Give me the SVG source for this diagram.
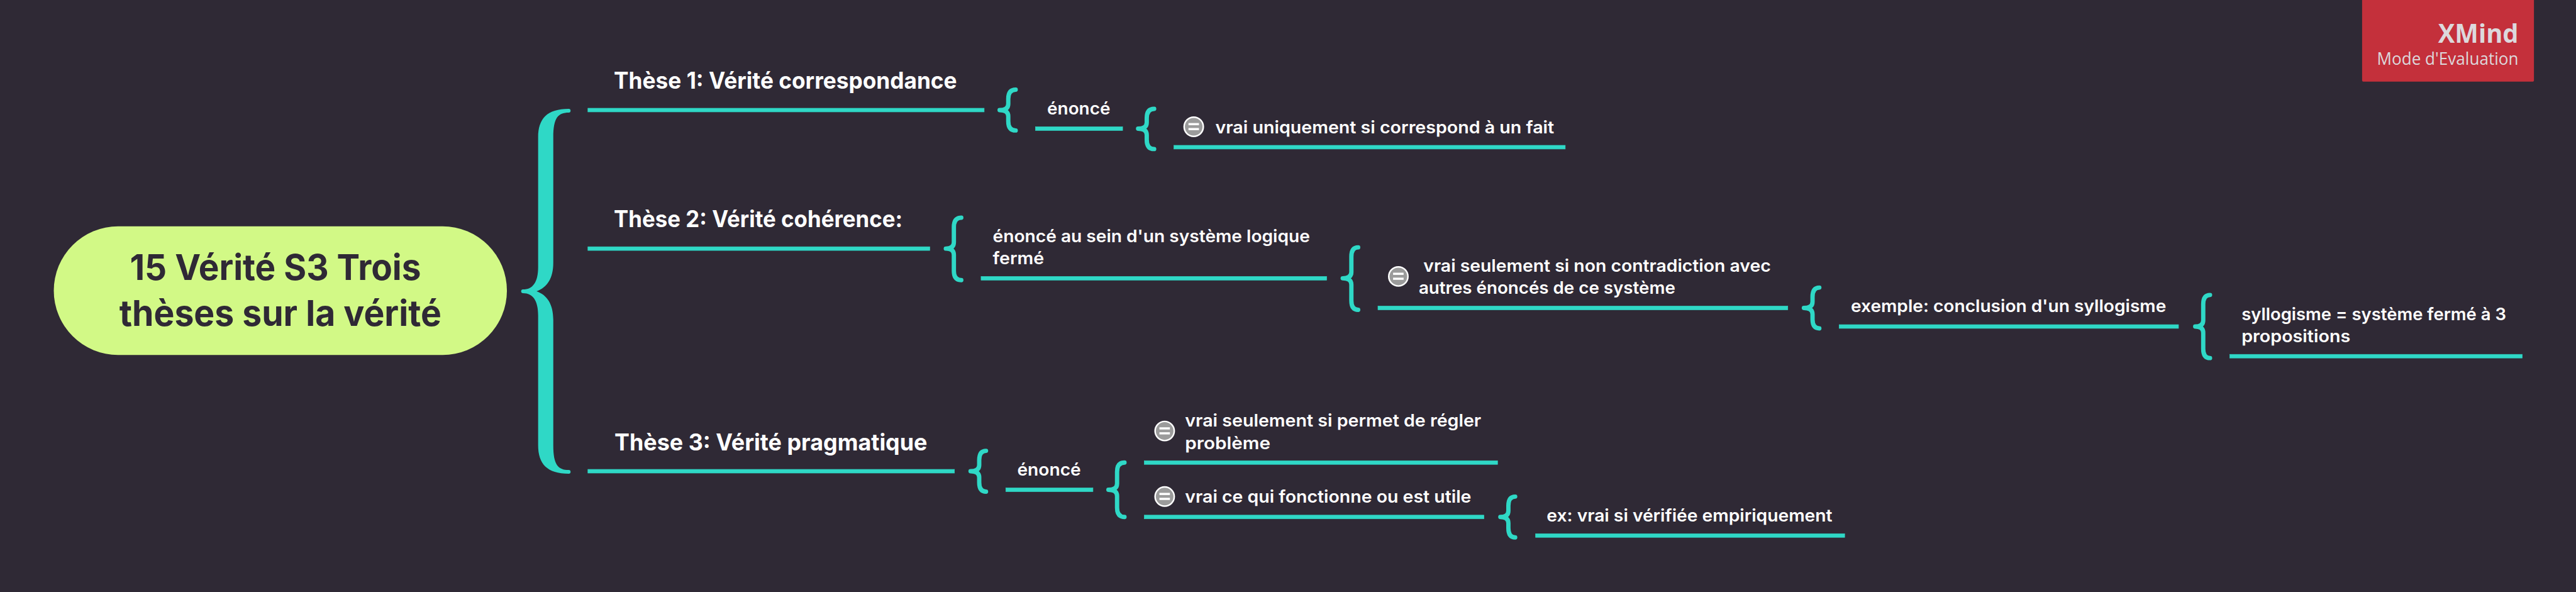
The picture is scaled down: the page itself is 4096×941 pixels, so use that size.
<svg xmlns="http://www.w3.org/2000/svg" xmlns:xlink="http://www.w3.org/1999/xlink" width="4096" height="941" viewBox="0 0 4096 941">
<style>
text{font-family:Inter,"Noto Sans","Liberation Sans",sans-serif;fill:#fff}
.root{font-size:58px;font-weight:700;fill:#2f2935}
.t1{font-size:37px;font-weight:700}
.t2{font-size:28px;font-weight:600}
.ul{fill:#2fd8c6;stroke:#2fd8c6;stroke-width:.7}
.br{fill:none;stroke:#2fd8c6;stroke-width:7;stroke-linecap:round;stroke-linejoin:round}
.wm1{font-family:"Open Sans","Liberation Sans",sans-serif;font-size:41px;font-weight:700;fill:#dcd9dc}
.wm2{font-family:"Open Sans","Liberation Sans",sans-serif;font-size:27px;fill:#dcd9dc}
</style>
<defs>
<g id="ico"><circle r="15.5" fill="#9b9b9b" stroke="#fff" stroke-width="2.5"/><rect x="-8.5" y="-6" width="17" height="3.5" fill="#fff"/><rect x="-8.5" y="2" width="17" height="3.5" fill="#fff"/></g>
</defs>
<rect width="4096" height="941" fill="#2f2935"/>
<g transform="scale(0.98296)">
<g id="connectors">
<path fill="#2fd8c6" d="M920 176Q923 176 923 179Q923 182 920 182C903 182 895 190 895 222L895 425C895 450 885 465 868 471C885 477 895 492 895 517L895 720C895 752 903 760 920 760Q923 760 923 763Q923 766 920 766C885 766 870.5 750 870.5 720L870.5 510C870.5 486 862 474 846 474Q843 474 843 471Q843 468 846 468C862 468 870.5 456 870.5 432L870.5 222C870.5 192 885 176 920 176Z"/>
<path class="br" d="M1643 145Q1631 145 1631 160L1631 168Q1631 178 1617 178Q1631 178 1631 188L1631 196Q1631 211 1643 211"/>
<path class="br" d="M1867 176Q1855 176 1855 191L1855 198Q1855 208 1841 208Q1855 208 1855 218L1855 226Q1855 241 1867 241"/>
<path class="br" d="M1555 352Q1543 352 1543 367L1543 392Q1543 402 1530 402Q1543 402 1543 412L1543 438Q1543 453 1555 453"/>
<path class="br" d="M2197 400Q2186 400 2186 415L2186 440Q2186 450 2172 450Q2186 450 2186 460L2186 486Q2186 501 2197 501"/>
<path class="br" d="M2943 465Q2932 465 2932 480L2932 488Q2932 498 2918 498Q2932 498 2932 508L2932 516Q2932 531 2943 531"/>
<path class="br" d="M3575 477Q3564 477 3564 492L3564 518Q3564 528 3551 528Q3564 528 3564 538L3564 564Q3564 579 3575 579"/>
<path class="br" d="M1595 729Q1584 729 1584 744L1584 752Q1584 762 1570 762Q1584 762 1584 772L1584 780Q1584 795 1595 795"/>
<path class="br" d="M1819 748Q1807 748 1807 763L1807 782Q1807 792 1793 792Q1807 792 1807 802L1807 821Q1807 836 1819 836"/>
<path class="br" d="M2451 803Q2440 803 2440 818L2440 826Q2440 836 2427 836Q2440 836 2440 846L2440 854Q2440 869 2451 869"/>
</g>
<g id="root"><rect x="87" y="366" width="733" height="208" rx="104" fill="#d2f986"/>
<text class="root" x="210" y="453" textLength="471" lengthAdjust="spacingAndGlyphs">15 Vérité S3 Trois</text>
<text class="root" x="193" y="527" textLength="521" lengthAdjust="spacingAndGlyphs">thèses sur la vérité</text></g>
<g id="these1"><text class="t1" x="993" y="143" textLength="555" lengthAdjust="spacingAndGlyphs">Thèse 1: Vérité correspondance</text><rect class="ul" x="951" y="175" width="641" height="6"/></g>
<g id="these2"><text class="t1" x="993" y="367" textLength="467" lengthAdjust="spacingAndGlyphs">Thèse 2: Vérité cohérence:</text><rect class="ul" x="951" y="399" width="553" height="6"/></g>
<g id="these3"><text class="t1" x="994" y="728" textLength="506" lengthAdjust="spacingAndGlyphs">Thèse 3: Vérité pragmatique</text><rect class="ul" x="951" y="759" width="593" height="6"/></g>
<g id="n1-enonce"><text class="t2" x="1694" y="185" textLength="102" lengthAdjust="spacingAndGlyphs">énoncé</text><rect class="ul" x="1675" y="205" width="141" height="6"/></g>
<g id="n1-vrai"><use href="#ico" xlink:href="#ico" transform="translate(1931 205)"/><text class="t2" x="1966" y="216" textLength="548" lengthAdjust="spacingAndGlyphs">vrai uniquement si correspond à un fait</text><rect class="ul" x="1899" y="235" width="633" height="6"/></g>
<g id="n2-enonce"><text class="t2" x="1606" y="392" textLength="513" lengthAdjust="spacingAndGlyphs">énoncé au sein d'un système logique</text><text class="t2" x="1606" y="427" textLength="83" lengthAdjust="spacingAndGlyphs">fermé</text><rect class="ul" x="1587" y="447" width="559" height="6"/></g>
<g id="n2-vrai"><use href="#ico" xlink:href="#ico" transform="translate(2262 447)"/><text class="t2" x="2302.5" y="439" textLength="562" lengthAdjust="spacingAndGlyphs">vrai seulement si non contradiction avec</text><text class="t2" x="2295" y="475" textLength="415" lengthAdjust="spacingAndGlyphs">autres énoncés de ce système</text><rect class="ul" x="2229" y="495" width="663" height="6"/></g>
<g id="n2-exemple"><text class="t2" x="2994" y="505" textLength="510" lengthAdjust="spacingAndGlyphs">exemple: conclusion d'un syllogisme</text><rect class="ul" x="2975" y="525" width="549" height="6"/></g>
<g id="n2-syllogisme"><text class="t2" x="3626" y="518" textLength="428" lengthAdjust="spacingAndGlyphs">syllogisme = système fermé à 3</text><text class="t2" x="3626" y="553" textLength="176" lengthAdjust="spacingAndGlyphs">propositions</text><rect class="ul" x="3607" y="573" width="473" height="6"/></g>
<g id="n3-enonce"><text class="t2" x="1645.5" y="769" textLength="103" lengthAdjust="spacingAndGlyphs">énoncé</text><rect class="ul" x="1627" y="789" width="141" height="6"/></g>
<g id="n3-vrai1"><use href="#ico" xlink:href="#ico" transform="translate(1884 697)"/><text class="t2" x="1917" y="690" textLength="479" lengthAdjust="spacingAndGlyphs">vrai seulement si permet de régler</text><text class="t2" x="1917" y="726" textLength="138" lengthAdjust="spacingAndGlyphs">problème</text><rect class="ul" x="1851" y="745" width="571.500" height="6"/></g>
<g id="n3-vrai2"><use href="#ico" xlink:href="#ico" transform="translate(1884 803)"/><text class="t2" x="1917" y="813" textLength="463" lengthAdjust="spacingAndGlyphs">vrai ce qui fonctionne ou est utile</text><rect class="ul" x="1851" y="833" width="549.500" height="6"/></g>
<g id="n3-ex"><text class="t2" x="2502" y="843" textLength="462" lengthAdjust="spacingAndGlyphs">ex: vrai si vérifiée empiriquement</text><rect class="ul" x="2484" y="863" width="500" height="6"/></g>
<g id="watermark"><rect x="3821" y="-4" width="278" height="136" rx="2" fill="#c4303b"/>
<text class="wm1" x="3944" y="69" textLength="130" lengthAdjust="spacingAndGlyphs">XMind</text>
<text class="wm2" x="3845" y="105" textLength="229" lengthAdjust="spacingAndGlyphs">Mode d'Evaluation</text></g>
</g>
</svg>
